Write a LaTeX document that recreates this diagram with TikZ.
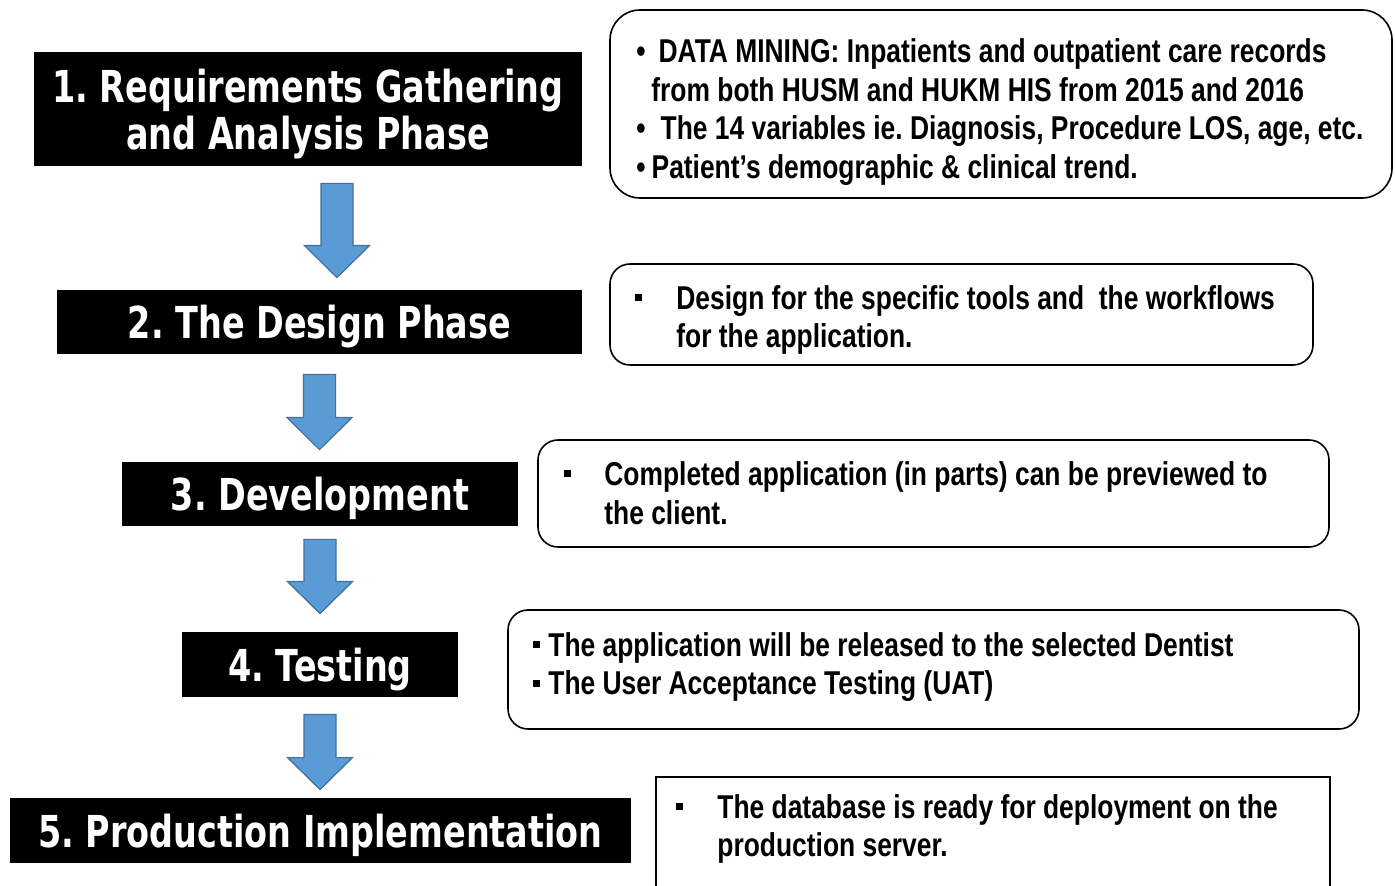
\documentclass[tikz,border=0pt]{standalone}
\usepackage{fontspec}
\usetikzlibrary{calc}
\newfontfamily\phasefont{DejaVu Sans Bold}[FakeStretch=0.76]
\newfontfamily\notefont{Liberation Sans Bold}[FakeStretch=0.8]
\definecolor{arrowfill}{HTML}{5B9BD5}
\definecolor{arrowline}{HTML}{41719C}
\newcommand{\sqbul}{\rule[4pt]{3.5pt}{3.5pt}}
\frenchspacing
% block arrow from a top point down to a tip
\newcommand{\flowarrow}[2]{%
  \draw[flowarrow] let \p1=(#1), \p2=(#2) in
    (\x1-8pt,\y1)--(\x1+8pt,\y1)--(\x1+8pt,\y2+16pt)--(\x1+16.25pt,\y2+16pt)
    --(\x1,\y2)--(\x1-16.25pt,\y2+16pt)--(\x1-8pt,\y2+16pt)--cycle;}
\tikzset{
  phase/.style={fill=black,text=white,align=center,inner sep=0pt,text depth=0pt,
    font=\phasefont\fontsize{22}{23.5}\selectfont},
  notebox/.style={draw=black,fill=white,line width=0.8pt,rounded corners=10pt,inner sep=0pt},
  notetext/.style={anchor=west,align=left,inner sep=0pt,
    font=\notefont\fontsize{16.5}{19.4}\selectfont},
  flowarrow/.style={fill=arrowfill,draw=arrowline,line width=0.6pt}
}
\begin{document}
\begin{tikzpicture}[x=0.5pt,y=-0.5pt]
    \useasboundingbox[fill=white] (0,0) rectangle (1396,886);
    % phases
    \node[phase,minimum width=274pt,minimum height=57pt] (p1) at (308,109)
        {1. Requirements Gathering\\and Analysis Phase};
    \node[phase,minimum width=262.5pt,minimum height=32pt] (p2) at (319.5,322) {2. The Design Phase};
    \node[phase,minimum width=198pt,minimum height=32pt] (p3) at (320,494) {3. Development};
    \node[phase,minimum width=138pt,minimum height=32.5pt] (p4) at (320,664.5) {4. Testing};
    \node[phase,minimum width=310.5pt,minimum height=32.5pt] (p5) at (320.5,830.5) {5. Production Implementation};
    % arrows between phases
    \coordinate (a1s) at ([xshift=14.5pt,yshift=-8.5pt]p1.south);
    \coordinate (a1e) at ([xshift=8.75pt,yshift=6pt]p2.north);
    \coordinate (a2s) at ([yshift=-10pt]p2.south);
    \coordinate (a2e) at ([yshift=6pt]p3.north);
    \coordinate (a3s) at ([yshift=-6.5pt]p3.south);
    \coordinate (a3e) at ([yshift=9pt]p4.north);
    \coordinate (a4s) at ([yshift=-8.5pt]p4.south);
    \coordinate (a4e) at ([yshift=4pt]p5.north);
    \flowarrow{a1s}{a1e}
    \flowarrow{a2s}{a2e}
    \flowarrow{a3s}{a3e}
    \flowarrow{a4s}{a4e}
    % notes
    \node[notebox,rounded corners=15pt,minimum width=391pt,minimum height=94pt] (n1) at (1001,104) {};
    \node[notetext] (t1) at (636,112) {%
        •\hspace{6.5pt}DATA MINING: Inpatients and outpatient care records\\
        \hspace*{7.5pt}from both HUSM and HUKM HIS from 2015 and 2016\\
        •\hspace{7.5pt}The 14 variables ie. Diagnosis, Procedure LOS, age, etc.\\
        •\hspace{3pt}Patient’s demographic \& clinical trend.};
    \node[notebox,minimum width=351.5pt,minimum height=50.5pt] (n2) at (961.5,314.5) {};
    \node[notetext] (t2) at (635,320) {%
        \makebox[20.5pt][l]{\sqbul}Design for the specific tools and~ the workflows\\
        \hspace*{20.5pt}for the application.};
    \node[notebox,minimum width=395.5pt,minimum height=53.5pt] (n3) at (933.5,493.5) {};
    \node[notetext] (t3) at (564,493) {%
        \makebox[20pt][l]{\sqbul}Completed application (in parts) can be previewed to\\
        \hspace*{20pt}the client.};
    \node[notebox,minimum width=425.5pt,minimum height=59.5pt] (n4) at (933.5,669.5) {};
    \node[notetext] (t4) at (533,667) {%
        \makebox[7.5pt][l]{\sqbul}The application will be released to the selected Dentist\\
        \makebox[7.5pt][l]{\sqbul}The User Acceptance Testing (UAT)};
    \node[notebox,rounded corners=0pt,minimum width=337pt,minimum height=63pt] (n5) at (993,840) {};
    \node[notetext] (t5) at (676,829) {%
        \makebox[20.5pt][l]{\sqbul}The database is ready for deployment on the\\
        \hspace*{20.5pt}production server.};
\end{tikzpicture}
\end{document}
